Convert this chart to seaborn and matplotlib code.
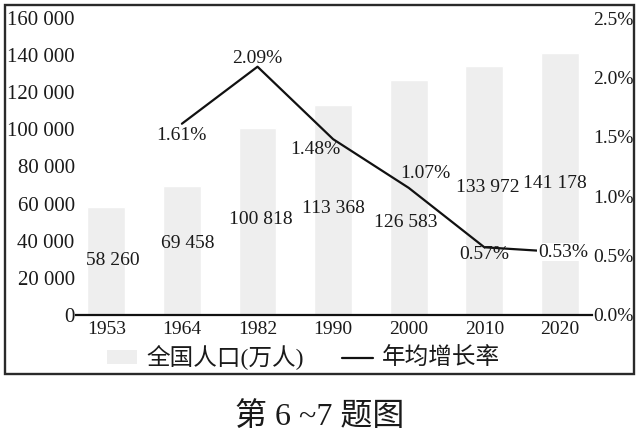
import matplotlib
matplotlib.use('Agg')
import matplotlib.pyplot as plt
import matplotlib.transforms as mtransforms
from matplotlib.patches import Rectangle, Patch
from matplotlib.lines import Line2D
import seaborn as sns
import pandas as pd

# ---- data ----
years = ['1953', '1964', '1982', '1990', '2000', '2010', '2020']
population = [58260, 69458, 100818, 113368, 126583, 133972, 141178]
pop_labels = ['58 260', '69 458', '100 818', '113 368', '126 583', '133 972', '141 178']
rate_years = ['1964', '1982', '1990', '2000', '2010', '2020']
growth_rate = [1.61, 2.09, 1.48, 1.07, 0.57, 0.53]
rate_labels = ['1.61%', '2.09%', '1.48%', '1.07%', '0.57%', '0.53%']
pop_ticks = [0, 20000, 40000, 60000, 80000, 100000, 120000, 140000, 160000]
pop_tick_labels = ['0', '20 000', '40 000', '60 000', '80 000', '100 000', '120 000', '140 000', '160 000']
rate_ticks = [0.0, 0.5, 1.0, 1.5, 2.0, 2.5]
rate_tick_labels = ['0.0%', '0.5%', '1.0%', '1.5%', '2.0%', '2.5%']
legend_labels = ['全国人口(万人)', '年均增长率']
caption = '第 6 ~7 题图'

# ---- label placement (style) ----
pop_label_dx = [0.08, 0.08, 0.04, 0.0, -0.04, 0.05, -0.07]
pop_label_y = [0.182, 0.242, 0.320, 0.360, 0.313, 0.428, 0.444]
rate_label_dx = [0.0, 0.0, -0.24, 0.22, 0.0, -0.29]
rate_label_y = [0.606, 0.865, 0.556, 0.478, 0.202, 0.212]
rate_label_ha = ['center', 'center', 'center', 'center', 'center', 'left']

sns.set_theme(style='white')
plt.rcParams['font.family'] = ['Liberation Serif', 'Noto Sans CJK SC']
TXT = '#1a1a1a'
BAR = '#eeeeee'

fig = plt.figure(figsize=(6.39, 4.37), dpi=100)
ax = fig.add_axes([0.119, 0.2792, 0.807, 0.6796])

df = pd.DataFrame({'year': years, 'pop': population})
sns.barplot(data=df, x='year', y='pop', color=BAR, saturation=1, width=0.5, ax=ax)
ax.set_xlim(-0.4, 6.42)
ax.set_ylim(0, 160000)
ax.set_yticks(pop_ticks, pop_tick_labels)
ax.set_xlabel('')
ax.set_ylabel('')
for s in ['left', 'right', 'top']:
    ax.spines[s].set_visible(False)
ax.spines['bottom'].set_color('#111111')
ax.spines['bottom'].set_linewidth(1.6)
ax.tick_params(length=0, labelsize=14, colors=TXT)
ax.tick_params(axis='x', pad=4)
ax.tick_params(axis='y', pad=1, labelsize=15)

ax2 = ax.twinx()
xpos = [years.index(y) for y in rate_years]
sns.lineplot(x=xpos, y=growth_rate, ax=ax2, color='#111111', linewidth=1.6)
ax2.set_xlim(-0.4, 6.42)
ax2.set_ylim(0, 2.5)
ax2.set_yticks(rate_ticks, rate_tick_labels)
ax2.set_ylabel('')
for s in ['left', 'right', 'top', 'bottom']:
    ax2.spines[s].set_visible(False)
ax2.tick_params(length=0, labelsize=14, colors=TXT, pad=1)

trans = mtransforms.blended_transform_factory(ax2.transData, ax2.transAxes)
for i, lab in enumerate(pop_labels):
    ax2.text(i + pop_label_dx[i], pop_label_y[i], lab, transform=trans,
             ha='center', va='center', fontsize=14, color=TXT)
for k, lab in enumerate(rate_labels):
    i = years.index(rate_years[k])
    kw = {}
    if rate_label_ha[k] == 'left':
        kw['bbox'] = dict(facecolor='white', edgecolor='none', pad=0.5)
    ax2.text(i + rate_label_dx[k], rate_label_y[k], lab, transform=trans,
             ha=rate_label_ha[k], va='center', fontsize=14, color=TXT, zorder=5, **kw)

# outer frame
fig.add_artist(Rectangle((5 / 639, 1 - 374 / 437), 629 / 639, 369 / 437,
                         transform=fig.transFigure, fill=False, lw=1.7, ec='#2a2a2a'))

handles = [Patch(facecolor=BAR, edgecolor='none', label=legend_labels[0]),
           Line2D([], [], color='#111111', lw=1.6, label=legend_labels[1])]
leg = fig.legend(handles=handles, loc='center', bbox_to_anchor=(0.475, 0.181), ncol=2,
                 frameon=False, fontsize=17, handlelength=1.3, handleheight=0.5,
                 handletextpad=0.4, columnspacing=1.6)
for t in leg.get_texts():
    t.set_color(TXT)

fig.text(0.5, 0.046, caption, fontsize=23, ha='center', va='center', color=TXT)

fig.savefig('out.png', dpi=100)
